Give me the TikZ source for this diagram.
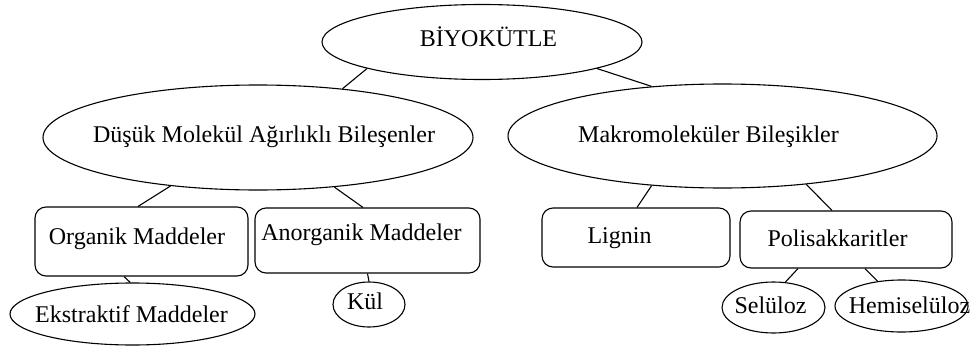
\documentclass[tikz,border=0pt]{standalone}
\usepackage{fontspec}
\setmainfont{Liberation Serif}
\newfontfamily\timesface{Liberation Serif}
\usetikzlibrary{shapes.geometric}
\begin{document}
\begin{tikzpicture}[x=1pt,y=-1pt,
  line width=1.1pt,
  oval/.style={draw,ellipse,inner sep=0pt},
  rbox/.style={draw,rectangle,rounded corners=11pt,inner sep=0pt},
  lbl/.style={anchor=base,inner sep=0pt,font=\timesface\fontsize{24}{28}\selectfont},
  link/.style={line width=1.1pt}]
\useasboundingbox (0,0) rectangle (976,345);

% shapes
\node[oval,minimum width=320pt,minimum height=75pt]  (top) at (482,42) {};
\node[oval,minimum width=430pt,minimum height=105pt] (dus) at (258,137.5) {};
\node[oval,minimum width=429pt,minimum height=104pt] (mak) at (722.5,136) {};
\node[rbox,minimum width=213pt,minimum height=69pt]  (org) at (141.5,241.5) {};
\node[rbox,minimum width=225pt,minimum height=65pt]  (ano) at (367.5,240.5) {};
\node[rbox,minimum width=188pt,minimum height=59pt]  (lig) at (636,237.5) {};
\node[rbox,minimum width=212pt,minimum height=57pt]  (pol) at (846,239.5) {};
\node[oval,minimum width=245pt,minimum height=62pt]  (eks) at (132.5,314) {};
\node[oval,minimum width=72pt,minimum height=45pt]   (kul) at (369,304.5) {};
\node[oval,minimum width=103pt,minimum height=51pt]  (sel) at (773.5,307.5) {};
\node[oval,minimum width=133pt,minimum height=52pt]  (hem) at (901.5,306) {};

% labels
\node[lbl] (topT) at (488.5,47)  {BİYOKÜTLE};
\node[lbl] (dusT) at (264,142)   {Düşük Molekül Ağırlıklı Bileşenler};
\node[lbl] (makT) at (708.5,142) {Makromoleküler Bileşikler};
\node[lbl] (orgT) at (137,244)   {Organik Maddeler};
\node[lbl] (anoT) at (361.5,240) {Anorganik Maddeler};
\node[lbl] (ligT) at (619.5,243) {Lignin};
\node[lbl] (polT) at (837.5,246) {Polisakkaritler};
\node[lbl] (eksT) at (131.5,322) {Ekstraktif Maddeler};
\node[lbl] (kulT) at (365,309)   {Kül};
\node[lbl] (selT) at (770.5,313) {Selüloz};
\node[lbl] (hemT) at (909.5,313) {Hemiselüloz};

% connectors
\draw[link] (top.193) -- (dus.30.5);
\draw[link] (top.347.6) -- (mak.145.2);
\draw[link] (dus.209.8) -- ([xshift=-3.5pt]org.north);
\draw[link] (dus.327.7) -- ([xshift=-4.5pt]ano.north);
\draw[link] ([xshift=-17.5pt]org.south) -- (eks.94);
\draw[link] (ano.south) -- (kul.north);
\draw[link] (mak.215.2) -- ([xshift=1pt]lig.north);
\draw[link] (mak.330) -- ([xshift=-14pt]pol.north);
\draw[link] ([xshift=-48pt]pol.south) -- (sel.65);
\draw[link] ([xshift=19pt]pol.south) -- (hem.134);
\end{tikzpicture}
\end{document}
